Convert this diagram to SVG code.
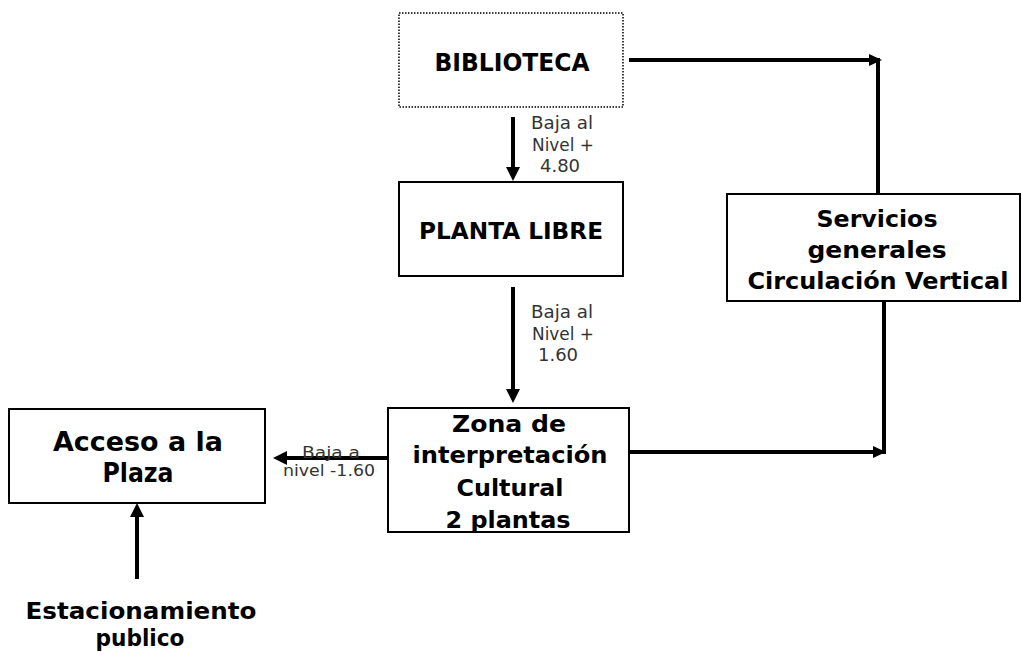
<svg xmlns="http://www.w3.org/2000/svg" width="1022" height="655" viewBox="0 0 1022 655">
<style>
.box{fill:#fff;stroke:#000;stroke-width:2}
.dot{fill:#fff;stroke:#000;stroke-width:1.5;stroke-dasharray:1.5 1.5}
.t{font-family:"DejaVu Sans","Liberation Sans",sans-serif;font-weight:bold;fill:#000;text-anchor:middle}
.s{font-family:"DejaVu Sans","Liberation Sans",sans-serif;font-size:18px;fill:#333;text-anchor:middle}
.s2{font-family:"DejaVu Sans","Liberation Sans",sans-serif;font-size:15px;fill:#333;text-anchor:middle}
.c{stroke:#000;stroke-width:4;fill:none}
</style>
<defs>
<marker id="ah" markerUnits="userSpaceOnUse" markerWidth="16" markerHeight="16" refX="4" refY="7" orient="auto">
<path d="M0,0 L14,7 L0,14 z" fill="#000"/>
</marker>
<marker id="ahs" markerUnits="userSpaceOnUse" markerWidth="16" markerHeight="16" refX="3" refY="6" orient="auto">
<path d="M0,0 L13,6 L0,12 z" fill="#000"/>
</marker>
</defs>
<g id="connectors">
<path class="c" d="M629,60 H872" marker-end="url(#ahs)"/>
<path class="c" d="M878,58 V194"/>
<path class="c" d="M884,301 V454"/>
<path class="c" d="M630,452 H876" marker-end="url(#ahs)"/>
<path class="c" d="M513,117 V171" marker-end="url(#ah)"/>
<path class="c" d="M513,287 V393" marker-end="url(#ah)"/>
<path class="c" d="M388,458 H283" marker-end="url(#ah)"/>
<path class="c" d="M137,579 V513" marker-end="url(#ah)"/>
</g>
<g id="label-1">
<text class="s" x="562" y="129" textLength="62" lengthAdjust="spacingAndGlyphs">Baja al</text>
<text class="s" x="563" y="151" textLength="62" lengthAdjust="spacingAndGlyphs">Nivel +</text>
<text class="s" x="560" y="172">4.80</text>
</g>
<g id="label-2">
<text class="s" x="562" y="318" textLength="62" lengthAdjust="spacingAndGlyphs">Baja al</text>
<text class="s" x="563" y="340" textLength="62" lengthAdjust="spacingAndGlyphs">Nivel +</text>
<text class="s" x="558" y="361">1.60</text>
</g>
<g id="label-3">
<text class="s2" x="331" y="458" textLength="58" lengthAdjust="spacingAndGlyphs">Baja a</text>
<text class="s2" x="329" y="476" textLength="92" lengthAdjust="spacingAndGlyphs">nivel -1.60</text>
</g>
<g id="biblioteca">
<rect class="dot" x="399" y="13" width="224" height="94"/>
<text class="t" x="512" y="71" font-size="24" textLength="155" lengthAdjust="spacingAndGlyphs">BIBLIOTECA</text>
</g>
<g id="planta-libre">
<rect class="box" x="399" y="182" width="224" height="94"/>
<text class="t" x="511" y="239" font-size="23" textLength="184" lengthAdjust="spacingAndGlyphs">PLANTA LIBRE</text>
</g>
<g id="servicios">
<rect class="box" x="727" y="194" width="293" height="107"/>
<text class="t" x="877" y="227" font-size="23" textLength="121" lengthAdjust="spacingAndGlyphs">Servicios</text>
<text class="t" x="877" y="258" font-size="23" textLength="139" lengthAdjust="spacingAndGlyphs">generales</text>
<text class="t" x="878" y="289" font-size="23" textLength="261" lengthAdjust="spacingAndGlyphs">Circulación Vertical</text>
</g>
<g id="zona">
<rect class="box" x="388" y="408" width="241" height="124"/>
<text class="t" x="509" y="432" font-size="23" textLength="114" lengthAdjust="spacingAndGlyphs">Zona de</text>
<text class="t" x="510" y="463" font-size="23" textLength="195" lengthAdjust="spacingAndGlyphs">interpretación</text>
<text class="t" x="510" y="496" font-size="23" textLength="107" lengthAdjust="spacingAndGlyphs">Cultural</text>
<text class="t" x="508" y="528" font-size="23" textLength="125" lengthAdjust="spacingAndGlyphs">2 plantas</text>
</g>
<g id="acceso">
<rect class="box" x="9" y="409" width="256" height="94"/>
<text class="t" x="138" y="451" font-size="26" textLength="170" lengthAdjust="spacingAndGlyphs">Acceso a la</text>
<text class="t" x="138" y="482" font-size="26" textLength="71" lengthAdjust="spacingAndGlyphs">Plaza</text>
</g>
<g id="estacionamiento">
<text class="t" x="141" y="619" font-size="23" textLength="231" lengthAdjust="spacingAndGlyphs">Estacionamiento</text>
<text class="t" x="140" y="646" font-size="23" textLength="89" lengthAdjust="spacingAndGlyphs">publico</text>
</g>
</svg>
